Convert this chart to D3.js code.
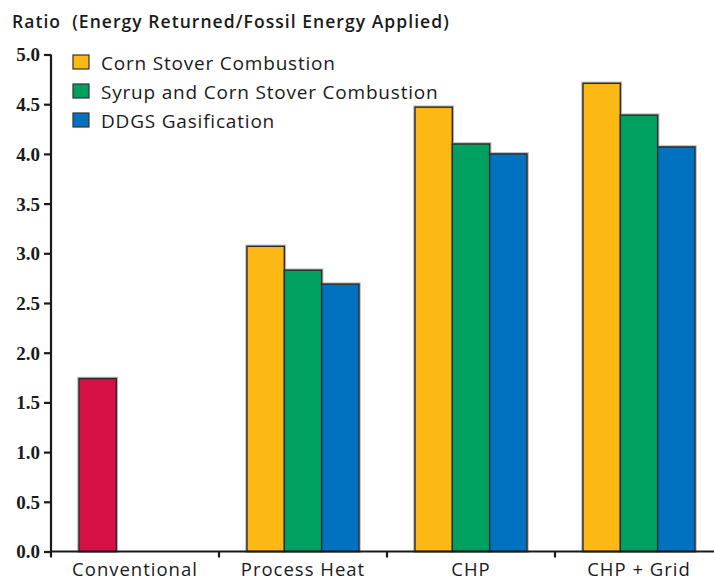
<!DOCTYPE html>
<html>
<head>
<meta charset="utf-8">
<script src="https://cdn.jsdelivr.net/npm/d3@7"></script>
<style>
  html, body { margin: 0; padding: 0; background: #fff; }
  svg { display: block; }
  .sans { font-family: "Open Sans", "Lato", sans-serif; fill: #1a1a1a; }
  .num { font-family: "Liberation Serif", "DejaVu Serif", serif; font-weight: bold; fill: #1a1a1a; }
</style>
</head>
<body>
<svg id="chart" width="714" height="579"></svg>
<script>
// Energy ratio by processing scenario
const categories = ["Conventional", "Process Heat", "CHP", "CHP + Grid"];
const seriesNames = ["Corn Stover Combustion", "Syrup and Corn Stover Combustion", "DDGS Gasification"];
const seriesColors = ["#FDB913", "#00A160", "#0072C0"];
const conventionalValue = 1.74;
const conventionalColor = "#D71045";
const cornStover = [null, 3.07, 4.47, 4.71];
const syrupStover = [null, 2.83, 4.10, 4.39];
const ddgsGasification = [null, 2.69, 4.00, 4.07];
const yTicks = [0, 0.5, 1, 1.5, 2, 2.5, 3, 3.5, 4, 4.5, 5];

const svg = d3.select("#chart");
const W = 714;

const x = d3.scaleBand()
  .domain(categories)
  .range([51, 51 + 168 * categories.length])
  .paddingInner(1 / 3)
  .paddingOuter(1 / 6);

const xSub = d3.scaleBand()
  .domain(d3.range(seriesNames.length))
  .range([0, x.bandwidth()]);

const y = d3.scaleLinear().domain([0, 5]).range([551.5, 54.5]);

// Bar records built from the series arrays
const seriesValues = [cornStover, syrupStover, ddgsGasification];
const bars = [];
bars.push({ cat: categories[0], idx: 0, value: conventionalValue, color: conventionalColor });
categories.forEach((c, ci) => {
  seriesValues.forEach((vals, si) => {
    if (vals[ci] != null) bars.push({ cat: c, idx: si, value: vals[ci], color: seriesColors[si] });
  });
});

// Bars with a soft halo under the dark outline
const barG = svg.append("g");
barG.selectAll("rect.halo")
  .data(bars)
  .join("rect")
  .attr("class", "halo")
  .attr("x", d => x(d.cat) + xSub(d.idx) - 0.5)
  .attr("y", d => y(d.value) - 0.5)
  .attr("width", xSub.bandwidth() + 1)
  .attr("height", d => y(0) - y(d.value) + 0.5)
  .attr("fill", "none")
  .attr("stroke", "#b8b8b8")
  .attr("stroke-width", 2.5);
barG.selectAll("rect.bar")
  .data(bars)
  .join("rect")
  .attr("class", "bar")
  .attr("x", d => x(d.cat) + xSub(d.idx))
  .attr("y", d => y(d.value))
  .attr("width", xSub.bandwidth())
  .attr("height", d => y(0) - y(d.value))
  .attr("fill", d => d.color)
  .attr("stroke", "#2b2b2b")
  .attr("stroke-width", 1.4);

// Y axis
const yAxis = d3.axisLeft(y)
  .tickValues(yTicks)
  .tickFormat(d3.format(".1f"))
  .tickSize(7)
  .tickPadding(4);
const yg = svg.append("g").attr("transform", "translate(51,0)").call(yAxis);
yg.select(".domain").attr("d", `M0,${y(5)}V${y(0)}`).attr("stroke", "#1a1a1a").attr("stroke-width", 2.2);
yg.selectAll(".tick line").attr("stroke", "#1a1a1a").attr("stroke-width", 2.2);
yg.selectAll(".tick text").attr("class", "num").attr("font-size", 19).attr("dy", "0.34em");

// X axis: baseline, group boundary ticks and category labels
const xg = svg.append("g").attr("transform", `translate(0,${y(0)})`);
const xAxis = d3.axisBottom(x).tickSize(0);
xg.call(xAxis);
xg.select(".domain").attr("d", `M51,0H${W}`).attr("stroke", "#1a1a1a").attr("stroke-width", 2.2);
xg.selectAll(".tick text")
  .attr("class", "sans")
  .attr("font-size", 18.5)
  .attr("font-weight", 500)
  .attr("letter-spacing", 1)
  .attr("y", 24)
  .attr("dy", 0);
const bounds = categories.map(c => x(c) - x.step() * x.paddingInner() / 2);
xg.selectAll("line.bound")
  .data(bounds)
  .join("line")
  .attr("class", "bound")
  .attr("x1", d => d).attr("x2", d => d)
  .attr("y1", 0).attr("y2", 6)
  .attr("stroke", "#1a1a1a")
  .attr("stroke-width", 2.2);

// Axis title
svg.append("text")
  .attr("class", "sans")
  .attr("x", 12).attr("y", 28)
  .attr("font-size", 17.5)
  .attr("font-weight", 600)
  .attr("letter-spacing", 1.05)
  .attr("xml:space", "preserve")
  .text("Ratio  (Energy Returned/Fossil Energy Applied)");

// Legend
const lg = svg.append("g").attr("transform", "translate(73,55)");
const item = lg.selectAll("g").data(seriesNames).join("g")
  .attr("transform", (d, i) => `translate(0,${i * 29})`);
item.append("rect")
  .attr("width", 16).attr("height", 14)
  .attr("fill", (d, i) => seriesColors[i])
  .attr("stroke", "#333").attr("stroke-width", 1.2);
item.append("text")
  .attr("class", "sans")
  .attr("x", 28).attr("y", 14.5)
  .attr("font-size", 19)
  .attr("font-weight", 500)
  .attr("letter-spacing", 0.8)
  .text(d => d);
</script>
</body>
</html>
